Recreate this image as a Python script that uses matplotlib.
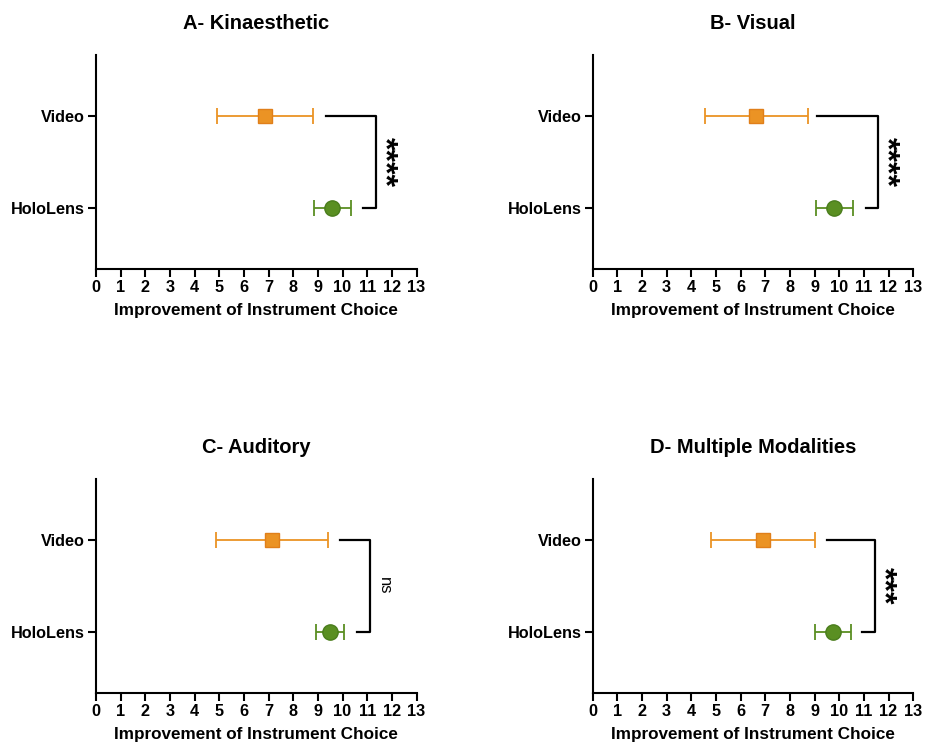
import matplotlib
matplotlib.use('Agg')
import matplotlib.pyplot as plt

plt.rcParams['font.family'] = ['Liberation Sans', 'DejaVu Sans']

# Data
panel_titles = ['A- Kinaesthetic', 'B- Visual', 'C- Auditory', 'D- Multiple Modalities']
groups = ['HoloLens', 'Video']
video_mean = [6.85, 6.64, 7.12, 6.92]
video_low = [4.89, 4.56, 4.87, 4.80]
video_high = [8.81, 8.74, 9.41, 9.03]
holo_mean = [9.59, 9.80, 9.49, 9.76]
holo_low = [8.85, 9.05, 8.92, 9.03]
holo_high = [10.34, 10.56, 10.06, 10.46]
# bracket: start of top arm, start of bottom arm, vertical line x
bracket_top = [9.31, 9.10, 9.89, 9.49]
bracket_bottom = [10.84, 11.07, 10.57, 10.94]
bracket_x = [11.35, 11.58, 11.11, 11.45]
signif = ['****', '****', 'ns', '***']
signif_x = [11.98, 12.2, 11.7, 12.07]
xticks = list(range(0, 14))
xlabel = 'Improvement of Instrument Choice'

orange = '#EB9324'
orange_edge = '#E07F1A'
green = '#5A8F22'
green_edge = '#4A7D1C'

fig = plt.figure(figsize=(9.25, 7.5), dpi=100)
W, H = 925, 750
boxes = [(96, 55), (592.7, 55), (96, 479), (592.7, 479)]

for i, (x0, y0) in enumerate(boxes):
    ax = fig.add_axes([x0 / W, 1 - (y0 + 214) / H, 320.5 / W, 214 / H])

    ax.errorbar(video_mean[i], 1,
                xerr=[[video_mean[i] - video_low[i]], [video_high[i] - video_mean[i]]],
                fmt='s', color=orange, mfc=orange, mec=orange_edge, ms=10.5,
                ecolor=orange, elinewidth=1.3, capsize=5.5, capthick=1.3, zorder=3)
    ax.errorbar(holo_mean[i], 0,
                xerr=[[holo_mean[i] - holo_low[i]], [holo_high[i] - holo_mean[i]]],
                fmt='o', color=green, mfc=green, mec=green_edge, ms=11,
                ecolor=green, elinewidth=1.3, capsize=5.5, capthick=1.3, zorder=3)

    # significance bracket
    ax.plot([bracket_top[i], bracket_x[i], bracket_x[i], bracket_bottom[i]],
            [1, 1, 0, 0], color='black', lw=1.6, clip_on=False)
    if signif[i] == 'ns':
        ax.text(signif_x[i], 0.5, signif[i], rotation=-90, fontsize=12,
                ha='center', va='center')
    else:
        # asterisks sit high in the em box, so shift the box left a bit
        ax.text(signif_x[i] - 0.3, 0.5, signif[i], rotation=-90, fontsize=23,
                fontweight='bold', ha='center', va='center')

    ax.set_xlim(0, 13)
    ax.set_ylim(-0.667, 1.66)
    ax.set_xticks(xticks)
    ax.set_yticks([0, 1])
    ax.set_yticklabels(groups)
    ax.set_xlabel(xlabel, fontsize=12.3, fontweight='bold', labelpad=6)
    ax.set_title(panel_titles[i], fontsize=14.5, fontweight='bold', pad=19)

    for s in ['top', 'right']:
        ax.spines[s].set_visible(False)
    for s in ['left', 'bottom']:
        ax.spines[s].set_linewidth(1.5)
    ax.tick_params(axis='both', direction='out', length=6, width=1.5,
                   labelsize=11.7, pad=2)
    for lbl in ax.get_xticklabels() + ax.get_yticklabels():
        lbl.set_fontweight('bold')

fig.savefig('out.png', dpi=100)
